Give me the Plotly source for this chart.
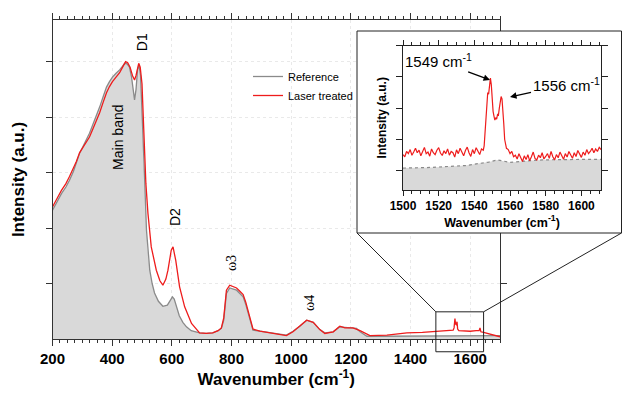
import plotly.graph_objects as go

# ---------------- data ----------------
ref_wn = [200, 210, 217, 230, 245, 257, 270, 280, 291, 305, 316, 324, 335, 347, 358, 370, 381, 391, 401, 413,
          425, 435, 442, 450, 458, 465, 470, 475, 480, 485, 490, 495, 500, 505, 509, 515, 520, 526, 534, 542,
          555, 570, 585, 595, 602, 608, 615, 625, 637, 649, 665, 693, 715, 737, 755, 766, 774, 783, 794, 805,
          817, 828, 839, 848, 856, 864, 872, 895, 917, 951, 984, 1006, 1029, 1052, 1074, 1096, 1113, 1141, 1163, 1180,
          1197, 1219, 1231, 1254, 1300, 1400, 1500, 1550, 1600, 1650, 1700]
ref_int = [2.32, 2.42, 2.5, 2.62, 2.74, 2.86, 3.02, 3.18, 3.35, 3.5, 3.62, 3.71, 3.86, 4.02, 4.18, 4.37, 4.54, 4.64, 4.72, 4.79,
           4.85, 4.92, 4.97, 4.96, 4.9, 4.72, 4.5, 4.31, 4.5, 4.85, 4.94, 4.75, 4.1, 3.2, 2.86, 1.96, 1.55, 1.24, 1.0, 0.83,
           0.68, 0.59, 0.61, 0.7, 0.76, 0.72, 0.61, 0.42, 0.3, 0.22, 0.15, 0.11, 0.1, 0.11, 0.15, 0.19, 0.34, 0.82, 0.92, 0.9,
           0.88, 0.82, 0.76, 0.62, 0.47, 0.3, 0.16, 0.14, 0.12, 0.1, 0.07, 0.14, 0.23, 0.34, 0.3, 0.17, 0.11, 0.13, 0.22, 0.21,
           0.2, 0.19, 0.13, 0.05, 0.05, 0.05, 0.05, 0.06, 0.06, 0.06, 0.06]

laser_wn = [200, 210, 217, 230, 245, 257, 270, 280, 291, 305, 316, 324, 335, 347, 358, 370, 381, 391, 401, 413,
            425, 435, 445, 452, 460, 468, 475, 480, 485, 489, 494, 500, 505, 510, 513, 520, 531, 548, 560, 570,
            580, 587, 598, 604, 613, 626, 643, 666, 693, 715, 737, 755, 766, 774, 783, 794, 805, 817, 828, 839,
            848, 856, 864, 872, 895, 917, 951, 984, 1006, 1029, 1052, 1074, 1096, 1113, 1141, 1163, 1180, 1197, 1207, 1231,
            1264, 1321, 1388, 1440, 1476, 1510, 1533, 1543, 1546, 1549, 1551, 1553, 1556, 1558, 1562, 1580, 1600, 1620, 1630, 1633,
            1636, 1645, 1660, 1680, 1700]
laser_int = [2.38, 2.47, 2.55, 2.68, 2.8, 2.93, 3.07, 3.2, 3.36, 3.48, 3.58, 3.64, 3.78, 3.93, 4.08, 4.27, 4.44, 4.55, 4.64, 4.72,
             4.8, 4.9, 5.0, 4.98, 4.9, 4.75, 4.67, 4.75, 4.92, 4.97, 4.9, 4.6, 3.9, 3.2, 2.8, 2.26, 1.66, 1.24, 1.05, 0.97,
             1.08, 1.24, 1.6, 1.66, 1.42, 0.94, 0.58, 0.28, 0.11, 0.1, 0.11, 0.15, 0.2, 0.38, 0.88, 0.97, 0.95, 0.92, 0.86, 0.8,
             0.66, 0.5, 0.32, 0.18, 0.14, 0.12, 0.09, 0.06, 0.13, 0.23, 0.34, 0.3, 0.17, 0.1, 0.13, 0.23, 0.2, 0.2, 0.2, 0.15,
             0.06, 0.07, 0.11, 0.12, 0.13, 0.14, 0.15, 0.16, 0.2, 0.37, 0.27, 0.26, 0.31, 0.18, 0.15, 0.14, 0.14, 0.15, 0.15, 0.2,
             0.13, 0.12, 0.1, 0.07, 0.04]

# inset (1500-1611 cm-1)
ins_ref_wn = [1500, 1516, 1535, 1548, 1553, 1560, 1570, 1578, 1590, 1604, 1611]
ins_ref_int = [1.09, 1.11, 1.17, 1.28, 1.35, 1.27, 1.32, 1.35, 1.36, 1.38, 1.37]

ins_laser_wn = [1500, 1501, 1502, 1503, 1504, 1505, 1506, 1507, 1508, 1509, 1510, 1511, 1512, 1513, 1514, 1515,
                1516, 1517, 1518, 1519, 1520, 1521, 1522, 1523, 1524, 1525, 1526, 1527, 1528, 1529, 1530, 1531,
                1532, 1533, 1534, 1535, 1536, 1537, 1538, 1539, 1540, 1541, 1542, 1543, 1544, 1545, 1545.5, 1546,
                1546.5, 1547, 1547.5, 1548, 1548.5, 1549, 1549.5, 1550, 1550.5, 1551, 1551.5, 1552, 1552.5, 1553,
                1553.5, 1554, 1554.5, 1555, 1555.5, 1556, 1556.5, 1557, 1557.5, 1558, 1559, 1560, 1561, 1562,
                1563, 1564, 1565, 1566, 1567, 1568, 1569, 1570, 1571, 1572, 1573, 1574, 1575, 1576, 1577, 1578,
                1579, 1580, 1581, 1582, 1583, 1584, 1585, 1586, 1587, 1588, 1589, 1590, 1591, 1592, 1593, 1594,
                1595, 1596, 1597, 1598, 1599, 1600, 1601, 1602, 1603, 1604, 1605, 1606, 1607, 1608, 1609, 1610, 1611]
ins_laser_int = [1.52, 1.45, 1.62, 1.55, 1.68, 1.5, 1.6, 1.72, 1.58, 1.66, 1.48, 1.63, 1.75, 1.55, 1.6, 1.47,
                 1.7, 1.58, 1.52, 1.66, 1.74, 1.57, 1.49, 1.64, 1.55, 1.7, 1.5, 1.62, 1.58, 1.44, 1.67, 1.55,
                 1.72, 1.6, 1.48, 1.65, 1.76, 1.58, 1.46, 1.68, 1.55, 1.74, 1.62, 1.52, 1.7, 1.66, 1.8, 2.3,
                 2.9, 3.3, 3.5, 3.45, 3.8, 3.96, 3.75, 3.2, 2.9, 2.75, 2.62, 2.7, 2.65, 2.8,
                 2.78, 3.0, 3.25, 3.37, 3.3, 3.0, 2.5, 2.0, 1.8, 1.72, 1.68, 1.55, 1.62, 1.45,
                 1.5, 1.38, 1.55, 1.42, 1.3, 1.48, 1.36, 1.52, 1.32, 1.45, 1.6, 1.4, 1.35, 1.5, 1.42, 1.58,
                 1.38, 1.46, 1.55, 1.4, 1.62, 1.45, 1.35, 1.52, 1.42, 1.6, 1.48, 1.37, 1.55, 1.44, 1.62, 1.5,
                 1.4, 1.58, 1.46, 1.65, 1.52, 1.43, 1.6, 1.5, 1.68, 1.55, 1.62, 1.72, 1.58, 1.7, 1.62, 1.75, 1.68]

main_xticks = [200, 400, 600, 800, 1000, 1200, 1400, 1600]
main_yticks = [1, 2, 3, 4, 5]
inset_xticks = [1500, 1520, 1540, 1560, 1580, 1600]
inset_yticks = [1, 2, 3, 4, 5]

series_names = ["Reference", "Laser treated"]
zoom_wn = [1485, 1645]
zoom_int = [-0.23, 0.49]

# ---------------- geometry ----------------
W, H = 623, 395
MX0, MX1, MY0, MY1 = 52.5, 500.0, 20.0, 339.0       # main plot box (px)
IX0, IX1, IY0, IY1 = 403.0, 601.0, 45.5, 190.0      # inset plot box (px)
XR, YR = [200, 1700], [0, 5.75]
IXR, IYR = [1500, 1611], [0.39, 5.0]
FRAME = [357, 621.5, 31, 233]                        # inset frame (px)

def main_px(wn, v):
    px = MX0 + (wn - XR[0]) / (XR[1] - XR[0]) * (MX1 - MX0)
    py = MY1 - (v - YR[0]) / (YR[1] - YR[0]) * (MY1 - MY0)
    return px, py

FONT = "Liberation Sans, Arial, sans-serif"
GRAY_LINE = "#8a8a8a"
GRAY_FILL = "#d9d9d9"
RED = "#ee1c1c"
AX = "#333333"

fig = go.Figure()

# main spectra: grey area (no legend), grey line, red line
fig.add_trace(go.Scatter(x=ref_wn, y=ref_int, mode="none", fill="tozeroy", fillcolor=GRAY_FILL,
                         showlegend=False, hoverinfo="skip", xaxis="x", yaxis="y"))
fig.add_trace(go.Scatter(x=ref_wn, y=ref_int, name=series_names[0], mode="lines",
                         line=dict(color=GRAY_LINE, width=1.3), xaxis="x", yaxis="y"))
fig.add_trace(go.Scatter(x=laser_wn, y=laser_int, name=series_names[1], mode="lines",
                         line=dict(color=RED, width=1.3), xaxis="x", yaxis="y"))

# overlay (decoration: inset frame, zoom box, connectors) in pixel space
bx0, by0 = main_px(zoom_wn[0], zoom_int[1])
bx1, by1 = main_px(zoom_wn[1], zoom_int[0])
fx0, fx1, fy0, fy1 = FRAME
fig.add_trace(go.Scatter(x=[fx0, fx1, fx1, fx0, fx0], y=[fy0, fy0, fy1, fy1, fy0], mode="lines",
                         fill="toself", fillcolor="white", line=dict(color="#222", width=1),
                         showlegend=False, hoverinfo="skip", xaxis="x2", yaxis="y2"))
fig.add_trace(go.Scatter(x=[bx0, fx0, None, bx1, fx1], y=[by0, fy1, None, by0, fy1], mode="lines",
                         line=dict(color="#222", width=1), showlegend=False, hoverinfo="skip",
                         xaxis="x2", yaxis="y2"))
fig.add_trace(go.Scatter(x=[bx0, bx1, bx1, bx0, bx0], y=[by0, by0, by1, by1, by0], mode="lines",
                         line=dict(color="#222", width=1), showlegend=False, hoverinfo="skip",
                         xaxis="x2", yaxis="y2"))

# inset spectra
fig.add_trace(go.Scatter(x=ins_ref_wn, y=ins_ref_int, mode="lines", showlegend=False,
                         line=dict(color=GRAY_LINE, width=1.2, dash="dot"), fill="tozeroy", fillcolor=GRAY_FILL,
                         xaxis="x3", yaxis="y3"))
fig.add_trace(go.Scatter(x=ins_laser_wn, y=ins_laser_int, mode="lines", showlegend=False,
                         line=dict(color=RED, width=1.2), xaxis="x3", yaxis="y3"))

tickfont_main = dict(family=FONT, size=15, color="black", weight="bold")
tickfont_ins = dict(family=FONT, size=12, color="black", weight="bold")

fig.update_layout(
    width=W, height=H, margin=dict(l=0, r=0, t=0, b=0),
    paper_bgcolor="white", plot_bgcolor="rgba(0,0,0,0)",
    hovermode=False,
    font=dict(family=FONT, color="black"),
    xaxis=dict(domain=[MX0 / W, MX1 / W], range=XR, anchor="y", automargin=False,
               tickvals=main_xticks, ticks="outside", ticklen=6, tickcolor=AX, tickwidth=1,
               showline=True, linecolor=AX, linewidth=1, mirror="ticks", zeroline=False,
               minor=dict(dtick=25, tick0=200, ticks="outside", ticklen=3, tickcolor=AX, showgrid=False),
               showgrid=True, gridcolor="#e9e9e9", griddash="dot",
               tickfont=tickfont_main,
               title=dict(text="Wavenumber (cm<sup>-1</sup>)", standoff=6,
                          font=dict(family=FONT, size=17, color="black", weight="bold"))),
    yaxis=dict(domain=[1 - MY1 / H, 1 - MY0 / H], range=YR, anchor="x", automargin=False,
               tickvals=main_yticks, showticklabels=False, ticks="outside", ticklen=6, tickcolor=AX,
               showline=True, linecolor=AX, linewidth=1, mirror="ticks", zeroline=False,
               showgrid=True, gridcolor="#e9e9e9", griddash="dot",
               title=dict(text="Intensity (a.u.)", standoff=16,
                          font=dict(family=FONT, size=17, color="black", weight="bold"))),
    xaxis2=dict(domain=[0, 1], range=[0, W], anchor="y2", visible=False, fixedrange=True),
    yaxis2=dict(domain=[0, 1], range=[H, 0], anchor="x2", visible=False, fixedrange=True),
    xaxis3=dict(domain=[IX0 / W, IX1 / W], range=IXR, anchor="y3", automargin=False,
                tickvals=inset_xticks, ticks="outside", ticklen=5, tickcolor="#222",
                showline=True, linecolor="#222", linewidth=1, mirror="ticks", zeroline=False,
                minor=dict(dtick=5, tick0=1500, ticks="outside", ticklen=3, tickcolor="#222", showgrid=False),
                showgrid=False, tickfont=tickfont_ins,
                title=dict(text="Wavenumber (cm<sup>-1</sup>)", standoff=4,
                           font=dict(family=FONT, size=12.5, color="black", weight="bold"))),
    yaxis3=dict(domain=[1 - IY1 / H, 1 - IY0 / H], range=IYR, anchor="x3", automargin=False,
                tickvals=inset_yticks, showticklabels=False, ticks="outside", ticklen=6, tickcolor="#222",
                showline=True, linecolor="#222", linewidth=1, mirror="ticks", zeroline=False,
                showgrid=False,
                title=dict(text="Intensity (a.u.)", standoff=6,
                           font=dict(family=FONT, size=12, color="black", weight="bold"))),
    legend=dict(x=248 / W, y=1 - 62 / H, xanchor="left", yanchor="top", bgcolor="rgba(0,0,0,0)",
                borderwidth=0, font=dict(family=FONT, size=11, color="black"), tracegroupgap=0,
                itemwidth=30),
)

labels = [("D1", 500, 5.35, FONT), ("Main band", 419, 3.64, FONT), ("D2", 611, 2.2, FONT),
          ("ω3", 802, 1.37, "Liberation Serif, Times New Roman, serif"),
          ("ω4", 1063, 0.65, "Liberation Serif, Times New Roman, serif")]
for txt, xv, yv, fam in labels:
    fig.add_annotation(x=xv, y=yv, xref="x", yref="y", text=txt, showarrow=False, textangle=-90,
                       font=dict(family=fam, size=14, color="black"))

fig.add_annotation(x=1548.8, y=3.9, xref="x3", yref="y3", text="1549 cm<sup>-1</sup>",
                   showarrow=True, arrowhead=2, arrowsize=1, arrowwidth=1.3, arrowcolor="black",
                   ax=-52, ay=-19, standoff=0, font=dict(family=FONT, size=15, color="black"))
fig.add_annotation(x=1560.0, y=3.36, xref="x3", yref="y3", text="1556 cm<sup>-1</sup>",
                   showarrow=True, arrowhead=2, arrowsize=1, arrowwidth=1.3, arrowcolor="black",
                   ax=56, ay=-12, standoff=0, font=dict(family=FONT, size=15, color="black"))

fig.write_html("out.html")
